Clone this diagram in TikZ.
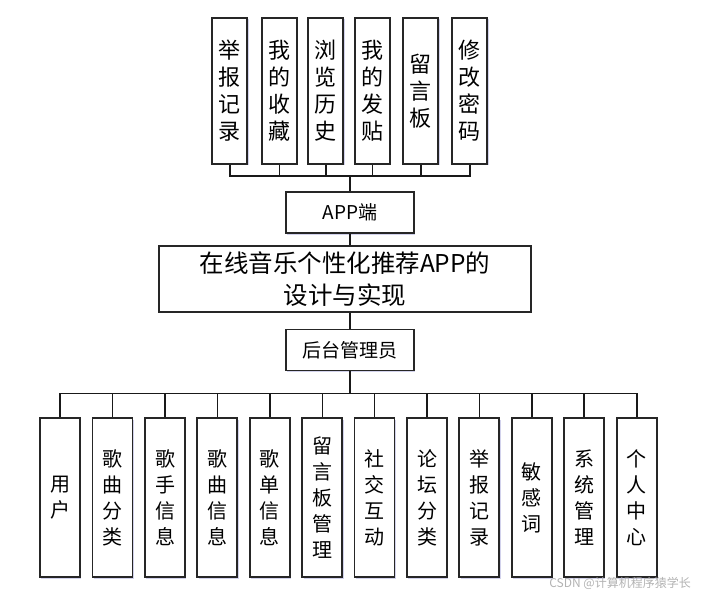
\documentclass[tikz,border=0pt]{standalone}
\usepackage{fontspec}
\setmainfont{Noto Sans CJK SC}
\usetikzlibrary{shadows}
\begin{document}
\begin{tikzpicture}[x=1pt,y=-1pt,
 box/.style={draw=black!85, line width=1.7pt, fill=white, inner sep=0pt,
   drop shadow={opacity=0.25,shadow xshift=1.2pt,shadow yshift=-1.2pt,fill=blue!40!gray}},
 conn/.style={line width=1.6pt, draw=black!90},
 vtop/.style={box, minimum width=35pt, minimum height=146pt, font=\fontsize{22}{27}\selectfont, align=center},
 vbot/.style={box, minimum width=40pt, minimum height=159pt, font=\fontsize{20}{26}\selectfont, align=center},
 hbox/.style={box, minimum width=128pt, minimum height=41pt, font=\fontsize{19}{22}\selectfont}]
\useasboundingbox (0,0) rectangle (701,597);
% top
\node[vtop] (t1) at (229.8,91) {举\\报\\记\\录};
\node[vtop] (t2) at (279.5,91) {我\\的\\收\\藏};
\node[vtop] (t3) at (325.8,91) {浏\\览\\历\\史};
\node[vtop] (t4) at (372.3,91) {我\\的\\发\\贴};
\node[vtop] (t5) at (420.8,91) {留\\言\\板};
\node[vtop] (t6) at (469.8,91) {修\\改\\密\\码};
\node[hbox] (app) at (350,212.8) {APP端};
\node[box, minimum width=372pt, minimum height=66pt, align=center, font=\fontsize{24.5}{32}\selectfont] (main) at (345,279) {在线音乐个性化推荐APP的\\设计与实现};
\node[hbox] (adm) at (350,350) {后台管理员};
% bottom
\node[vbot] (b1) at (60,497.8) {用\\户};
\node[vbot] (b2) at (112.5,497.8) {歌\\曲\\分\\类};
\node[vbot] (b3) at (165,497.8) {歌\\手\\信\\息};
\node[vbot] (b4) at (217.3,497.8) {歌\\曲\\信\\息};
\node[vbot] (b5) at (269.7,497.8) {歌\\单\\信\\息};
\node[vbot] (b6) at (322.3,497.8) {留\\言\\板\\管\\理};
\node[vbot] (b7) at (374.5,497.8) {社\\交\\互\\动};
\node[vbot] (b8) at (427,497.8) {论\\坛\\分\\类};
\node[vbot] (b9) at (479.3,497.8) {举\\报\\记\\录};
\node[vbot] (b10) at (531.8,497.8) {敏\\感\\词};
\node[vbot] (b11) at (584,497.8) {系\\统\\管\\理};
\node[vbot] (b12) at (636.7,497.8) {个\\人\\中\\心};
% connectors
\coordinate (tb) at (350,175.7);
\coordinate (bb) at (350,393.3);
\foreach \n in {t1,t2,t3,t4,t5,t6} \draw[conn] (\n.south) |- (tb);
\draw[conn] (tb) -- (app.north);
\draw[conn] (app.south) -- (app.south |- main.north);
\draw[conn] (adm.north |- main.south) -- (adm.north);
\draw[conn] (adm.south) -- (bb);
\foreach \n in {b1,b2,b3,b4,b5,b6,b7,b8,b9,b10,b11,b12} \draw[conn] (bb) -| (\n.north);
\node[font=\fontsize{12}{14}\selectfont, text=gray!60, anchor=east, inner sep=0pt] (wm) at (691,583) {CSDN @计算机程序猿学长};
\end{tikzpicture}
\end{document}
